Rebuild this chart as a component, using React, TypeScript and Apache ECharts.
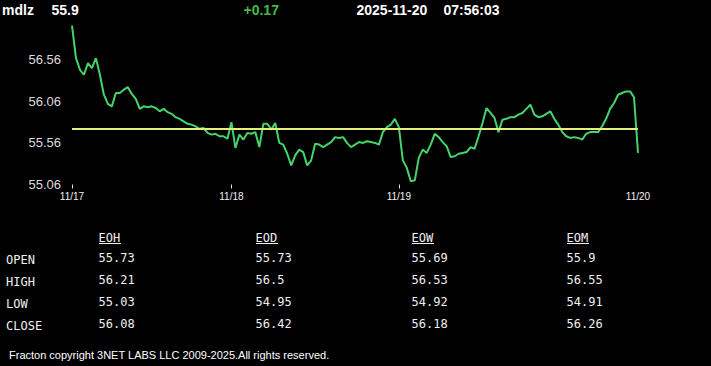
import React, { useEffect, useRef } from "react";
import * as echarts from "echarts";

const symbolName = "mdlz";
const lastPrice = "55.9";
const changeText = "+0.17";
const dateText = "2025-11-20";
const timeText = "07:56:03";
const refLevel = 55.73;

const yTicks = [55.06, 55.56, 56.06, 56.56];
const yMin = 55.06;
const yMax = 57.0;
const dayLabels = ["11/17", "11/18", "11/19", "11/20"];
const dayStart = [0, 40, 82, 142];

const prices = [
  56.97, 56.58, 56.44, 56.38, 56.52, 56.46, 56.58, 56.38, 56.14, 56.03,
  56.0, 56.16, 56.16, 56.2, 56.23, 56.15, 56.09, 55.97, 56.0, 55.99,
  56.0, 55.98, 55.94, 55.97, 55.93, 55.91, 55.87, 55.85, 55.82, 55.79,
  55.78, 55.76, 55.73, 55.74, 55.68, 55.66, 55.67, 55.64, 55.64, 55.61,
  55.81, 55.5, 55.66, 55.6, 55.68, 55.67, 55.69, 55.51, 55.79, 55.79,
  55.72, 55.8, 55.56, 55.54, 55.43, 55.29, 55.41, 55.48, 55.45, 55.29,
  55.35, 55.55, 55.54, 55.51, 55.54, 55.57, 55.63, 55.62, 55.63, 55.56,
  55.51, 55.54, 55.57, 55.56, 55.58, 55.57, 55.56, 55.54, 55.69, 55.75,
  55.78, 55.85, 55.75, 55.35, 55.26, 55.1, 55.11, 55.38, 55.48, 55.44,
  55.54, 55.67, 55.63, 55.57, 55.52, 55.39, 55.4, 55.43, 55.44, 55.45,
  55.51, 55.49, 55.64, 55.8, 55.98, 55.92, 55.86, 55.69, 55.84, 55.85,
  55.87, 55.87, 55.9, 55.92, 55.97, 56.02, 55.9, 55.87, 55.88, 55.91,
  55.94, 55.85, 55.78, 55.69, 55.64, 55.62, 55.63, 55.62, 55.6, 55.67,
  55.69, 55.69, 55.69, 55.76, 55.85, 55.97, 56.04, 56.14, 56.16, 56.18,
  56.18, 56.11, 55.44,
];

const tableCols = ["EOH", "EOD", "EOW", "EOM"];
const tableRows = ["OPEN", "HIGH", "LOW", "CLOSE"];
const eohVals = ["55.73", "56.21", "55.03", "56.08"];
const eodVals = ["55.73", "56.5", "54.95", "56.42"];
const eowVals = ["55.69", "56.53", "54.92", "56.18"];
const eomVals = ["55.9", "56.55", "54.91", "56.26"];
const footerText = "Fracton copyright 3NET LABS LLC 2009-2025.All rights reserved.";

const SANS = "'Liberation Sans', Arial, sans-serif";
const MONO = "'DejaVu Sans Mono', 'Liberation Mono', monospace";

function txt(text: string, x: number, y: number, size: number, color: string, family: string, weight = "normal") {
  return {
    type: "text",
    x,
    y,
    silent: true,
    style: {
      text,
      fill: color,
      fontSize: size,
      fontFamily: family,
      fontWeight: weight,
      align: "left",
      verticalAlign: "middle",
      textAlign: "left",
      textVerticalAlign: "middle",
    },
  };
}

export default function App() {
  const ref = useRef<HTMLDivElement>(null);

  useEffect(() => {
    document.body.style.margin = "0";
    document.body.style.background = "#000";
    if (!ref.current) return;
    const chart = echarts.init(ref.current, undefined, { renderer: "svg" });

    const categories = prices.map((_, i) => String(i));
    const labelAt = (i: number) => dayStart.indexOf(i);

    const colX = [98.5, 255.5, 411.5, 566.5];
    const valY = [258, 280, 302, 324];
    const colVals = [eohVals, eodVals, eowVals, eomVals];
    const elements: any[] = [
      txt(symbolName, 2, 9.5, 14, "#ffffff", SANS, "bold"),
      txt(lastPrice, 51.5, 9.5, 14, "#ffffff", SANS, "bold"),
      txt(changeText, 243.5, 9.5, 14, "#45b845", SANS, "bold"),
      txt(dateText, 356.5, 9.5, 14, "#ffffff", SANS, "bold"),
      txt(timeText, 443.5, 9.5, 14, "#ffffff", SANS, "bold"),
      txt(footerText, 9, 355, 11, "#ffffff", SANS),
    ];
    tableCols.forEach((c, ci) => {
      elements.push(txt(c, colX[ci], 238, 12, "#f0f0f0", MONO));
      elements.push({
        type: "line",
        silent: true,
        shape: { x1: colX[ci] + 0.5, y1: 243.5, x2: colX[ci] + 22.5, y2: 243.5 },
        style: { stroke: "#f0f0f0", lineWidth: 1 },
      });
      colVals[ci].forEach((v, ri) => {
        elements.push(txt(v, colX[ci], valY[ri], 12, "#f0f0f0", MONO));
      });
    });
    tableRows.forEach((r, ri) => {
      elements.push(txt(r, 6, valY[ri] + 1.5, 12, "#f0f0f0", MONO));
    });

    chart.setOption({
      animation: false,
      backgroundColor: "#000000",
      grid: { left: 72, right: 73, top: 23.2, bottom: 181.5, containLabel: false },
      xAxis: {
        type: "category",
        data: categories,
        boundaryGap: false,
        axisLine: { show: false },
        axisTick: {
          show: true,
          length: 4,
          interval: (i: number) => labelAt(i) >= 0 && i !== dayStart[dayStart.length - 1],
          lineStyle: { color: "#e0e0e0", width: 1 },
        },
        axisLabel: {
          interval: (i: number) => labelAt(i) >= 0,
          formatter: (_v: string, i: number) => (labelAt(i) >= 0 ? dayLabels[labelAt(i)] : ""),
          color: "#f0f0f0",
          fontSize: 10,
          fontFamily: SANS,
          margin: 7,
        },
        splitLine: { show: false },
      },
      yAxis: {
        type: "value",
        min: yMin,
        max: yMax,
        interval: 0.5,
        axisLine: { show: false },
        axisTick: { show: false },
        splitLine: { show: false },
        axisLabel: {
          color: "#dcdcdc",
          fontSize: 13,
          fontFamily: SANS,
          margin: 11,
          showMaxLabel: false,
          formatter: (v: number) => {
            const t = yTicks.find((k) => Math.abs(k - v) < 1e-6);
            return t === undefined ? "" : t.toFixed(2);
          },
        },
      },
      series: [
        {
          type: "line",
          data: prices,
          showSymbol: false,
          symbol: "none",
          lineStyle: { color: "#44d46c", width: 2 },
          silent: true,
          markLine: {
            silent: true,
            symbol: "none",
            label: { show: false },
            lineStyle: { color: "#e4f07c", width: 2, type: "solid" },
            data: [{ yAxis: refLevel }],
          },
        },
      ],
      graphic: { elements },
    });

    return () => {
      chart.dispose();
    };
  }, []);

  return <div ref={ref} style={{ width: 711, height: 366, background: "#000" }} />;
}
